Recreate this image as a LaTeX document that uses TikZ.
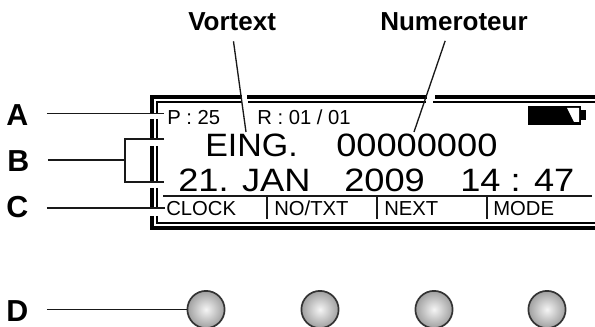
\documentclass[tikz,border=0pt]{standalone}
\usepackage{fontspec}
\setmainfont{Liberation Sans}
\newfontfamily\lcdfont[FakeStretch=1.12]{Liberation Sans}
\newfontfamily\lcdtight[FakeStretch=1.05]{Liberation Sans}
\begin{document}
\begin{tikzpicture}[
    x=0.025cm, y=-0.025cm,
    callout/.style={inner sep=0pt, font=\bfseries\fontsize{21.6}{24}\selectfont, anchor=base west},
    title/.style={inner sep=0pt, font=\bfseries\fontsize{18.5}{21}\selectfont, anchor=base west},
    small/.style={inner sep=0pt, font=\fontsize{14.4}{17}\selectfont, anchor=base west},
    large/.style={inner sep=0pt, font=\lcdfont\fontsize{23}{26}\selectfont, anchor=base west},
    lead/.style={line width=0.95pt, black!90},
    frameout/.style={line width=2.8pt},
    framein/.style={line width=0.8pt},
    knob/.style={circle, draw=black!80, line width=1.2pt, minimum size=0.93cm, inner sep=0pt,
      inner color=white!92!gray, outer color=gray!75}
  ]
  \useasboundingbox (0,0) rectangle (595,327);

  % Display frame, broken where the callouts pass
  \draw[frameout] (242,97) -- (152,97) -- (152,113.5);
  \draw[frameout] (247,97) -- (427,97);
  \draw[frameout] (435,97) -- (595,97);
  \draw[frameout] (152,119) -- (152,140);
  \draw[frameout] (152,146) -- (152,183);
  \draw[frameout] (152,188) -- (152,209);
  \draw[frameout] (152,216) -- (152,228) -- (595,228);
  \draw[framein] (242,102) -- (157,102) -- (157,113.5);
  \draw[framein] (248,102) -- (426,102);
  \draw[framein] (433,102) -- (595,102);
  \draw[framein] (157,119) -- (157,140);
  \draw[framein] (157,146) -- (157,183);
  \draw[framein] (157,188) -- (157,209);
  \draw[framein] (157,216) -- (157,223) -- (595,223);

  % Status line and battery
  \node[small] (page) at (167,125) {P : 25};
  \node[small] (rec) at (257,125) {R : 01 / 01};
  \fill (528,106) rectangle (581,125);
  \fill (581,110) rectangle (586,120);
  \fill[white] (567,108) -- (579,108) -- (579,122) -- (574,122) -- cycle;

  % Main display lines
  \node[large, font=\lcdtight\fontsize{23}{26}\selectfont] (eing) at (205,157) {EING.};
  \node[large] (count) at (336,157) {00000000};
  \node[large] (date) at (178,192) {21. JAN};
  \node[large] (year) at (344,192) {2009};
  \node[large] (time) at (460,192) {14 : 47};

  % Soft keys
  \coordinate (barL) at (163,196);
  \coordinate (barR) at (592,196);
  \draw[lead] (barL) -- (barR);
  \draw[lead] (267,196) -- (267,219);
  \draw[lead] (377,196) -- (377,219);
  \draw[lead] (487,196) -- (487,219);
  \node[small] (clock) at (166,216) {CLOCK};
  \node[small] (notxt) at (274,216) {NO/TXT};
  \node[small] (next) at (384,216) {NEXT};
  \node[small] (mode) at (493,216) {MODE};

  % Buttons
  \node[knob] (btnA) at (206,309.5) {};
  \node[knob] (btnB) at (320,309.5) {};
  \node[knob] (btnC) at (434,309.5) {};
  \node[knob] (btnD) at (547,309.5) {};

  % Titles with their leaders
  \node[title] (vortext) at (188,31) {Vortext};
  \node[title] (numero) at (380,31) {Numeroteur};
  \coordinate (vortextEnd) at (246,132);
  \coordinate (numeroEnd) at (414,132);
  \draw[lead, shorten <=7pt] (vortext.south) -- (vortextEnd);
  \draw[lead, shorten <=7pt] ([xshift=-4pt]numero.south) -- (numeroEnd);

  % Callouts on the left
  \node[callout] (labelA) at (6,126) {A};
  \node[callout] (labelB) at (7,172) {B};
  \node[callout] (labelC) at (6,218) {C};
  \node[callout] (labelD) at (6,322) {D};
  \coordinate (endA) at (164,113.5);
  \coordinate (endC) at (165,208);
  \coordinate (forkB) at (125,160);
  \coordinate (topB) at (164,139);
  \coordinate (botB) at (164,182);
  \draw[lead, shorten <=13pt] (labelA.east |- endA) -- (endA);
  \draw[lead, shorten <=13pt] (labelB.east |- forkB) -- (forkB);
  \draw[lead] (topB) -- (forkB |- topB) -- (forkB |- botB) -- (botB);
  \draw[lead, shorten <=13pt] (labelC.east |- endC) -- (endC);
  \draw[lead, shorten <=13pt] (labelD.east |- btnA.west) -- (btnA.west);

\end{tikzpicture}
\end{document}
